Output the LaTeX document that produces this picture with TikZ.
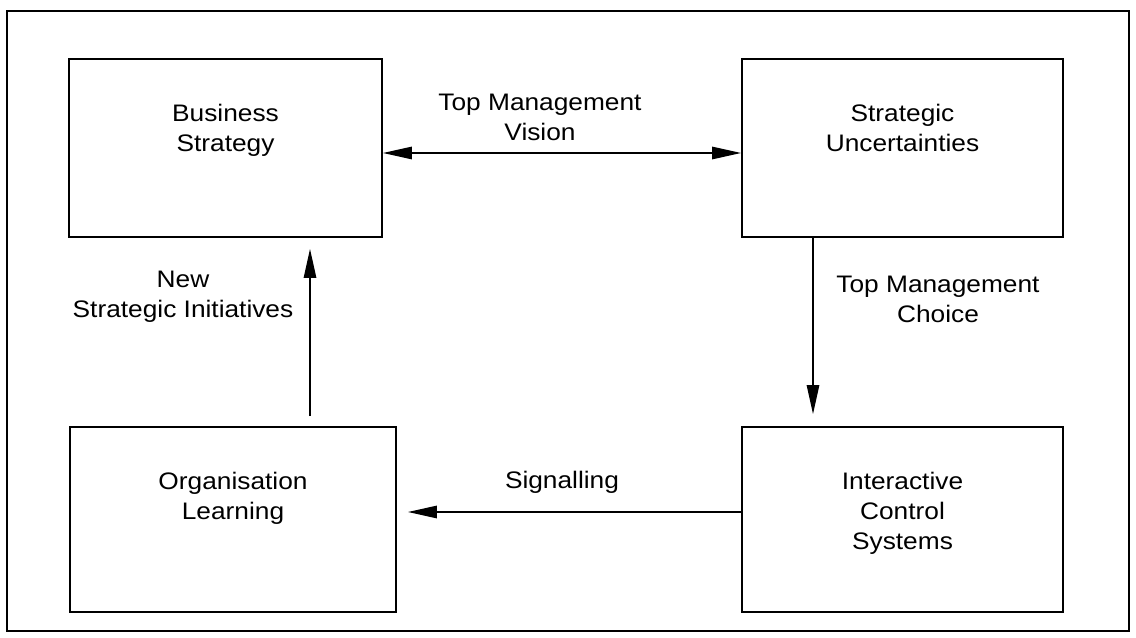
\documentclass[tikz,border=0pt]{standalone}
\usepackage{fontspec}
\setmainfont{Liberation Sans}
\usetikzlibrary{arrows.meta,positioning}

\tikzset{
  bigtri/.tip={Triangle[length=0.58cm,width=0.25cm]},
  box/.style={draw, line width=1.1pt, inner sep=0pt},
  txt/.style={align=center, inner sep=0pt, xscale=1.1, transform shape,
    font=\fontsize{13.6pt}{17pt}\selectfont},
  arr/.style={line width=0.75pt, -bigtri},
}

\begin{document}
\begin{tikzpicture}[x=0.02cm, y=-0.02cm]
    \useasboundingbox (0,0) rectangle (1136,638);
    \draw[line width=1.1pt] (7,11) rectangle (1129,631);

    % boxes
    \node[box, minimum width=6.26cm, minimum height=3.56cm] (bs) at (225.5,148) {};
    \node[box, minimum width=6.42cm, minimum height=3.56cm] (su) at (902.5,148) {};
    \node[box, minimum width=6.52cm, minimum height=3.7cm] (ol) at (233,519.5) {};
    \node[box, minimum width=6.42cm, minimum height=3.7cm] (ics) at (902.5,519.5) {};

    \node[txt, below=0.92cm of bs.north] (bstext) {Business\\Strategy};
    \node[txt, below=0.92cm of su.north] (sutext) {Strategic\\Uncertainties};
    \node[txt, below=0.92cm of ol.north] (oltext) {Organisation\\Learning};
    \node[txt, below=0.92cm of ics.north] (icstext) {Interactive\\Control\\Systems};

    % arrow labels
    \node[txt] (vision) at (540,117) {Top Management\\Vision};
    \node[txt] (choice) at (938,299) {Top Management\\Choice};
    \node[txt] (initiatives) at (183,297) {New\\Strategic Initiatives};
    \node[txt] (signal) at (562,482) {Signalling};

    % arrows
    \coordinate (visiony) at (0,153);
    \coordinate (choicex) at (813,0);
    \coordinate (initx) at (310,0);
    \coordinate (signaly) at (0,512);

    \draw[arr, bigtri-bigtri] (bs.east |- visiony) -- (su.west |- visiony);
    \draw[arr, shorten >=0.24cm] (su.south -| choicex) -- (ics.north -| choicex);
    \draw[arr, shorten <=0.2cm, shorten >=0.22cm] (ol.north -| initx) -- (bs.south -| initx);
    \draw[arr, shorten >=0.22cm] (ics.west |- signaly) -- (ol.east |- signaly);

\end{tikzpicture}
\end{document}
